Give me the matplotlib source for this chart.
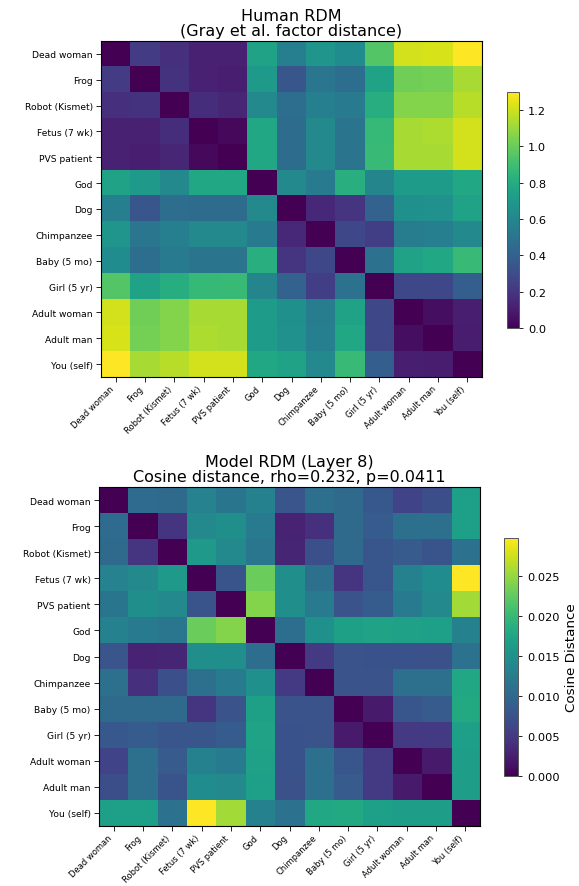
import matplotlib
matplotlib.use("Agg")
import matplotlib.pyplot as plt
import numpy as np

labels = ["Dead woman", "Frog", "Robot (Kismet)", "Fetus (7 wk)", "PVS patient", "God", "Dog",
          "Chimpanzee", "Baby (5 mo)", "Girl (5 yr)", "Adult woman", "Adult man", "You (self)"]

human_rdm = [
    [0.00, 0.23, 0.18, 0.12, 0.12, 0.75, 0.56, 0.68, 0.63, 0.95, 1.21, 1.22, 1.30],
    [0.23, 0.00, 0.19, 0.12, 0.11, 0.70, 0.35, 0.51, 0.47, 0.75, 1.02, 1.03, 1.13],
    [0.18, 0.19, 0.00, 0.17, 0.14, 0.61, 0.47, 0.56, 0.54, 0.81, 1.06, 1.06, 1.16],
    [0.12, 0.12, 0.17, 0.00, 0.03, 0.78, 0.46, 0.61, 0.50, 0.87, 1.13, 1.14, 1.21],
    [0.12, 0.11, 0.14, 0.03, 0.00, 0.78, 0.46, 0.61, 0.50, 0.88, 1.13, 1.13, 1.21],
    [0.75, 0.70, 0.61, 0.78, 0.78, 0.00, 0.61, 0.53, 0.82, 0.59, 0.72, 0.72, 0.78],
    [0.56, 0.35, 0.47, 0.46, 0.46, 0.61, 0.00, 0.15, 0.20, 0.41, 0.65, 0.66, 0.75],
    [0.68, 0.51, 0.56, 0.61, 0.61, 0.53, 0.15, 0.00, 0.28, 0.24, 0.55, 0.56, 0.61],
    [0.63, 0.47, 0.54, 0.50, 0.50, 0.82, 0.20, 0.28, 0.00, 0.49, 0.75, 0.78, 0.88],
    [0.95, 0.75, 0.81, 0.87, 0.88, 0.59, 0.41, 0.24, 0.49, 0.00, 0.28, 0.28, 0.39],
    [1.21, 1.02, 1.06, 1.13, 1.13, 0.72, 0.65, 0.55, 0.75, 0.28, 0.00, 0.05, 0.11],
    [1.22, 1.03, 1.06, 1.14, 1.13, 0.72, 0.66, 0.56, 0.78, 0.28, 0.05, 0.00, 0.10],
    [1.30, 1.13, 1.16, 1.21, 1.21, 0.78, 0.75, 0.61, 0.88, 0.39, 0.11, 0.10, 0.00],
]

model_rdm = [
    [0.0000, 0.0104, 0.0103, 0.0132, 0.0116, 0.0131, 0.0078, 0.0110, 0.0103, 0.0082, 0.0060, 0.0071, 0.0168],
    [0.0104, 0.0000, 0.0045, 0.0140, 0.0148, 0.0122, 0.0029, 0.0041, 0.0103, 0.0087, 0.0110, 0.0110, 0.0168],
    [0.0103, 0.0045, 0.0000, 0.0159, 0.0140, 0.0117, 0.0031, 0.0072, 0.0103, 0.0079, 0.0085, 0.0077, 0.0111],
    [0.0132, 0.0140, 0.0159, 0.0000, 0.0077, 0.0229, 0.0148, 0.0110, 0.0046, 0.0080, 0.0130, 0.0144, 0.0297],
    [0.0116, 0.0148, 0.0140, 0.0077, 0.0000, 0.0242, 0.0148, 0.0122, 0.0076, 0.0086, 0.0121, 0.0140, 0.0256],
    [0.0131, 0.0122, 0.0117, 0.0229, 0.0242, 0.0000, 0.0107, 0.0149, 0.0169, 0.0171, 0.0170, 0.0168, 0.0131],
    [0.0078, 0.0029, 0.0031, 0.0148, 0.0148, 0.0107, 0.0000, 0.0050, 0.0076, 0.0075, 0.0075, 0.0074, 0.0112],
    [0.0110, 0.0041, 0.0072, 0.0110, 0.0122, 0.0149, 0.0050, 0.0000, 0.0076, 0.0076, 0.0110, 0.0110, 0.0178],
    [0.0103, 0.0103, 0.0103, 0.0046, 0.0076, 0.0169, 0.0076, 0.0076, 0.0000, 0.0022, 0.0080, 0.0085, 0.0180],
    [0.0082, 0.0087, 0.0079, 0.0080, 0.0086, 0.0171, 0.0075, 0.0076, 0.0022, 0.0000, 0.0050, 0.0050, 0.0168],
    [0.0060, 0.0110, 0.0085, 0.0130, 0.0121, 0.0170, 0.0075, 0.0110, 0.0080, 0.0050, 0.0000, 0.0022, 0.0166],
    [0.0071, 0.0110, 0.0077, 0.0144, 0.0140, 0.0168, 0.0074, 0.0110, 0.0085, 0.0050, 0.0022, 0.0000, 0.0166],
    [0.0168, 0.0168, 0.0111, 0.0297, 0.0256, 0.0131, 0.0112, 0.0178, 0.0180, 0.0168, 0.0166, 0.0166, 0.0000],
]

top_title = "Human RDM\n(Gray et al. factor distance)"
bottom_title = "Model RDM (Layer 8)\nCosine distance, rho=0.232, p=0.0411"
cbar_label = "Cosine Distance"
model_cbar_ticks = [0.000, 0.005, 0.010, 0.015, 0.020, 0.025]

W, H = 579, 887
fig = plt.figure(figsize=(W / 100, H / 100), dpi=100)


def box(x0, y0, x1, y1):
    return [x0 / W, 1 - y1 / H, (x1 - x0) / W, (y1 - y0) / H]


ax1 = fig.add_axes(box(101, 42, 482, 378))
ax2 = fig.add_axes(box(99, 488, 480, 827))
cax1 = fig.add_axes(box(507, 93, 519, 329))
cax2 = fig.add_axes(box(504, 539, 518, 777))

ytick_fs = 6.6
xtick_fs = 6.0
for ax, data, title, cax in [(ax1, human_rdm, top_title, cax1), (ax2, model_rdm, bottom_title, cax2)]:
    im = ax.imshow(np.array(data), cmap="viridis", aspect="auto")
    ax.set_xticks(range(len(labels)))
    ax.set_yticks(range(len(labels)))
    ax.set_xticklabels(labels, rotation=45, ha="right", fontsize=xtick_fs)
    ax.set_yticklabels(labels, fontsize=ytick_fs)
    ax.tick_params(axis="y", length=3.5, width=0.6, pad=2.5)
    ax.tick_params(axis="x", length=3.5, width=0.6, pad=1.5)
    ax.set_title(title, fontsize=11.5, pad=4, linespacing=1.0)
    cb = fig.colorbar(im, cax=cax)
    cb.ax.tick_params(labelsize=8.2, length=3, width=0.6)
    cb.outline.set_linewidth(0.7)
    cb.outline.set_edgecolor("#555555")
    if ax is ax2:
        cb.set_label(cbar_label, fontsize=9.7)
        cb.set_ticks(model_cbar_ticks)
        cb.ax.set_yticklabels([f"{t:.3f}" for t in model_cbar_ticks])

fig.savefig("out.png", dpi=100)
